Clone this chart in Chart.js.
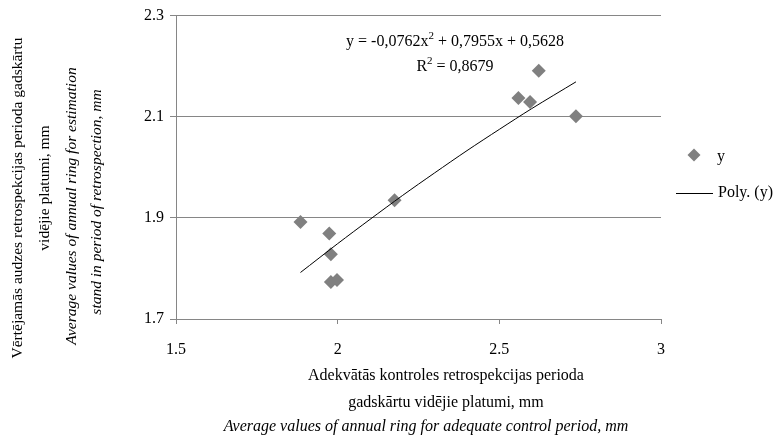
<!DOCTYPE html>
<html lang="lv">
<head>
  <meta charset="UTF-8">
  <title>Gadskārtu vidējie platumi</title>
  <script src="https://cdn.jsdelivr.net/npm/chart.js"></script>
  <style>
    body { margin: 0; background: #fff; }
    #wrap { width: 778px; height: 440px; }
  </style>
</head>
<body>
  <div id="wrap"><canvas id="chart" width="778" height="440"></canvas></div>
  <script>
    // mērījumi (nolasīti no attēla)
    const xValues = [1.885, 1.974, 1.979, 1.979, 1.998, 2.176, 2.559, 2.595, 2.622, 2.737];
    const yValues = [1.892, 1.869, 1.828, 1.773, 1.777, 1.935, 2.137, 2.129, 2.191, 2.101];
    // trenda līnija (Poly. (y))
    const trendX = [1.885, 2.0, 2.1, 2.2, 2.3, 2.4, 2.5, 2.6, 2.737];
    const trendY = [1.792, 1.849, 1.897, 1.944, 1.989, 2.033, 2.075, 2.116, 2.169];
    const xTicks = [1.5, 2, 2.5, 3];
    const xTickLabels = ['1.5', '2', '2.5', '3'];
    const yTicks = [1.7, 1.9, 2.1, 2.3];
    const yTickLabels = ['1.7', '1.9', '2.1', '2.3'];

    const serif = '"Liberation Serif", "DejaVu Serif", serif';
    const gray = '#868686';

    // ass nosaukumi, vienādojums un leģenda
    const textPlugin = {
      id: 'texts',
      afterDraw(chart) {
        const ctx = chart.ctx;
        ctx.save();
        ctx.fillStyle = '#000';
        ctx.textAlign = 'center';
        ctx.textBaseline = 'middle';

        // x ass nosaukums
        ctx.font = '16px ' + serif;
        ctx.fillText('Adekvātās kontroles retrospekcijas perioda', 446, 376);
        ctx.fillText('gadskārtu vidējie platumi, mm', 446, 403);
        ctx.font = 'italic 16px ' + serif;
        ctx.fillText('Average values of annual ring for adequate control period, mm', 426, 427);

        // y ass nosaukums
        const yLines = [
          ['Vērtējamās audzes retrospekcijas perioda gadskārtu', 18, 198, false],
          ['vidējie platumi, mm', 45, 188, false],
          ['Average values of annual ring for estimation', 72, 206, true],
          ['stand in period of retrospection, mm', 97, 202, true]
        ];
        yLines.forEach(l => {
          ctx.save();
          ctx.translate(l[1], l[2]);
          ctx.rotate(-Math.PI / 2);
          ctx.font = (l[3] ? 'italic ' : '') + '15.5px ' + serif;
          ctx.fillText(l[0], 0, 0);
          ctx.restore();
        });

        // vienādojums
        drawParts(ctx, [['y = -0,0762x', 0], ['2', 1], [' + 0,7955x + 0,5628', 0]], 455, 42);
        drawParts(ctx, [['R', 0], ['2', 1], [' = 0,8679', 0]], 455, 67);

        // leģenda
        ctx.fillStyle = '#808080';
        ctx.beginPath();
        ctx.moveTo(694, 148.5); ctx.lineTo(700.5, 155); ctx.lineTo(694, 161.5); ctx.lineTo(687.5, 155);
        ctx.closePath();
        ctx.fill();
        ctx.strokeStyle = '#000';
        ctx.lineWidth = 1;
        ctx.beginPath();
        ctx.moveTo(676, 193.5); ctx.lineTo(713, 193.5);
        ctx.stroke();
        ctx.fillStyle = '#000';
        ctx.textAlign = 'left';
        ctx.font = '16px ' + serif;
        ctx.fillText('y', 717, 157);
        ctx.fillText('Poly. (y)', 718, 193);
        ctx.restore();
      }
    };

    function drawParts(ctx, parts, cx, y) {
      const fonts = ['16px ' + serif, '11px ' + serif];
      let total = 0;
      parts.forEach(p => { ctx.font = fonts[p[1]]; total += ctx.measureText(p[0]).width; });
      let x = cx - total / 2;
      ctx.textAlign = 'left';
      parts.forEach(p => {
        ctx.font = fonts[p[1]];
        ctx.fillText(p[0], x, p[1] ? y - 6 : y);
        x += ctx.measureText(p[0]).width;
      });
      ctx.textAlign = 'center';
    }

    new Chart(document.getElementById('chart'), {
      type: 'scatter',
      data: {
        datasets: [{
          label: 'y',
          data: xValues.map((x, i) => ({ x: x, y: yValues[i] })),
          pointStyle: 'rectRot',
          pointRadius: 7,
          pointBackgroundColor: '#808080',
          pointBorderWidth: 0,
          order: 2
        }, {
          label: 'Poly. (y)',
          type: 'line',
          data: trendX.map((x, i) => ({ x: x, y: trendY[i] })),
          borderColor: '#000',
          borderWidth: 1,
          pointRadius: 0,
          tension: 0.3,
          fill: false,
          order: 1
        }]
      },
      options: {
        responsive: false,
        animation: false,
        devicePixelRatio: 1,
        layout: { padding: { left: 0, right: 117, top: 13, bottom: 0 } },
        plugins: { legend: { display: false }, tooltip: { enabled: false } },
        scales: {
          x: {
            type: 'linear',
            min: 1.5,
            max: 3,
            afterBuildTicks: s => { s.ticks = xTicks.map(v => ({ value: v })); },
            afterFit: s => { s.height = 121; },
            ticks: {
              font: { family: serif, size: 16 }, color: '#000', padding: 16, maxRotation: 0,
              callback: (v, i) => xTickLabels[i]
            },
            grid: { drawOnChartArea: false, tickLength: 5, color: gray },
            border: { color: gray }
          },
          y: {
            min: 1.7,
            max: 2.3,
            afterBuildTicks: s => { s.ticks = yTicks.map(v => ({ value: v })); },
            afterFit: s => { s.width = 176; },
            ticks: {
              font: { family: serif, size: 16 }, color: '#000', padding: 6,
              callback: (v, i) => yTickLabels[i]
            },
            grid: { color: gray, tickLength: 6 },
            border: { color: gray }
          }
        }
      },
      plugins: [textPlugin]
    });
  </script>
</body>
</html>
